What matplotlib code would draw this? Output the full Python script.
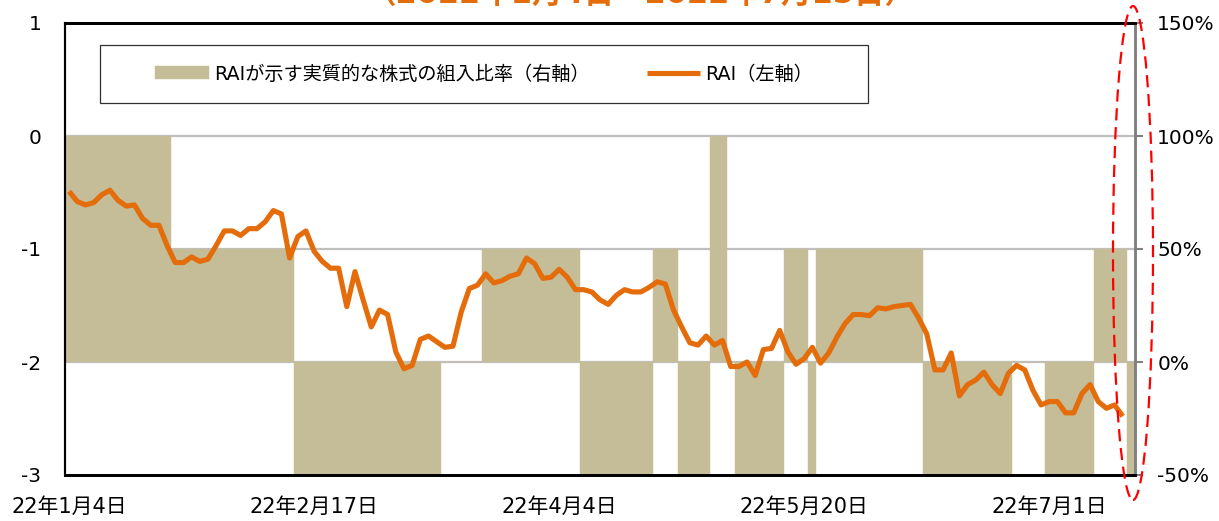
import matplotlib
matplotlib.use("Agg")
import matplotlib.pyplot as plt
from matplotlib.patches import Rectangle, Ellipse
import numpy as np

plt.rcParams['font.family'] = ['DejaVu Sans', 'Noto Sans CJK JP']

# ---------------- data ----------------
title = "（2022年1月4日～2022年7月15日）"
tick_labels = ["22年1月4日", "22年2月17日", "22年4月4日", "22年5月20日", "22年7月1日"]
tick_positions = [0, 30, 60, 90, 120]

# RAI (left axis), one value per business day (Jan 4 - Jul 14)
rai = [
    -0.49, -0.58, -0.61, -0.59, -0.52, -0.48, -0.57, -0.62, -0.61, -0.73,
    -0.79, -0.79, -0.97, -1.12, -1.12, -1.07, -1.11, -1.09, -0.97, -0.84,
    -0.84, -0.88, -0.82, -0.82, -0.76, -0.66, -0.69, -1.08, -0.89, -0.84,
    -1.02, -1.11, -1.17, -1.17, -1.51, -1.20, -1.45, -1.69, -1.54, -1.58,
    -1.91, -2.06, -2.03, -1.80, -1.77, -1.82, -1.87, -1.86, -1.56, -1.35,
    -1.32, -1.22, -1.30, -1.28, -1.24, -1.22, -1.08, -1.13, -1.26, -1.25,
    -1.18, -1.25, -1.36, -1.36, -1.38, -1.45, -1.49, -1.41, -1.36, -1.38,
    -1.38, -1.34, -1.29, -1.31, -1.54, -1.69, -1.83, -1.85, -1.77, -1.85,
    -1.81, -2.04, -2.04, -2.00, -2.12, -1.89, -1.88, -1.72, -1.91, -2.02,
    -1.97, -1.87, -2.01, -1.92, -1.78, -1.66, -1.58, -1.58, -1.59, -1.52,
    -1.53, -1.51, -1.50, -1.49, -1.61, -1.75, -2.07, -2.07, -1.92, -2.30,
    -2.20, -2.16, -2.09, -2.20, -2.28, -2.10, -2.03, -2.07, -2.25, -2.38,
    -2.35, -2.35, -2.45, -2.45, -2.28, -2.20, -2.35, -2.41, -2.38, -2.48,
]

# equity weight implied by RAI (right axis, %), one value per business day (Jan 4 - Jul 15)
ratio = [
    100, 100, 100, 100, 100, 100, 100, 100, 100, 100, 100, 100, 100,
    50, 50, 50, 50, 50, 50, 50, 50, 50, 50, 50, 50, 50, 50, 50,
    -50, -50, -50, -50, -50, -50, -50, -50, -50, -50, -50, -50, -50, -50, -50, -50, -50, -50,
    0, 0, 0, 0, 0,
    50, 50, 50, 50, 50, 50, 50, 50, 50, 50, 50, 50,
    -50, -50, -50, -50, -50, -50, -50, -50, -50,
    50, 50, 50,
    -50, -50, -50, -50,
    100, 100,
    0,
    -50, -50, -50, -50, -50, -50,
    50, 50, 50,
    -50,
    50, 50, 50, 50, 50, 50, 50, 50, 50, 50, 50, 50, 50,
    -50, -50, -50, -50, -50, -50, -50, -50, -50, -50, -50,
    0, 0, 0, 0,
    -50, -50, -50, -50, -50, -50,
    50, 50, 50, 50,
    -50,
]

label_bar = "RAIが示す実質的な株式の組入比率（右軸）"
label_line = "RAI（左軸）"

# ---------------- styles ----------------
ORANGE = "#E46C0A"
TAN = "#C4BD97"
GRID = "#BFBFBF"

W, H = 1219, 521
fig = plt.figure(figsize=(W / 100, H / 100), dpi=100)
L, R, T, B = 65, 1135, 23, 475
ax = fig.add_axes([L / W, 1 - B / H, (R - L) / W, (B - T) / H])
ax2 = ax.twinx()

x_bar = np.arange(len(ratio))
x_line = np.arange(len(rai))

# bars on right axis
ax2.set_ylim(-50, 150)
for g in (0, 50, 100):
    ax2.axhline(g, color=GRID, lw=1.6, zorder=0)
bars = ax2.bar(x_bar, ratio, width=1.0, color=TAN, edgecolor=TAN, linewidth=0.3, zorder=1)
ax2.set_yticks([-50, 0, 50, 100, 150])
ax2.set_yticklabels([f"{v}%" for v in [-50, 0, 50, 100, 150]])

# line on left axis
ax.set_zorder(ax2.get_zorder() + 1)
ax.patch.set_visible(False)
line, = ax.plot(x_line, rai, color=ORANGE, lw=3.7, solid_joinstyle='round', solid_capstyle='butt', zorder=3)
ax.set_ylim(-3, 1)
ax.set_yticks([-3, -2, -1, 0, 1])
ax.set_yticklabels(["-3", "-2", "-1", "0", "1"])
ax.set_xlim(-0.5, len(ratio) - 0.5)
ax.set_xticks(tick_positions)
ax.set_xticklabels(tick_labels)

ax.tick_params(axis='y', length=0, pad=17, labelsize=14.5)
ax.tick_params(axis='x', length=0, pad=16, labelsize=15)
ax2.tick_params(axis='y', length=6, width=1.5, color='#7F7F7F', pad=10, labelsize=14.5, direction='out')

for a in (ax, ax2):
    a.spines['left'].set_color('black')
    a.spines['left'].set_linewidth(1.5)
    a.spines['top'].set_color('black')
    a.spines['top'].set_linewidth(2.0)
    a.spines['bottom'].set_color('black')
    a.spines['bottom'].set_linewidth(2.0)
    a.spines['right'].set_color('#808080')
    a.spines['right'].set_linewidth(1.8)

# legend with separate frame
leg = ax.legend([bars, line], [label_bar, label_line], ncol=2, loc='center',
                bbox_to_anchor=((484 - L) / (R - L), (B - 74) / (B - T)),
                frameon=False, fontsize=13.8, handlelength=2.8, handletextpad=0.25,
                columnspacing=3.0, borderpad=0, borderaxespad=0, handleheight=0.65)
frame = Rectangle(((100 - L) / (R - L), (B - 103) / (B - T)), 768 / (R - L), 58 / (B - T),
                  transform=ax.transAxes, fill=True, facecolor='white', edgecolor='#303030', lw=0.9, zorder=4)
ax.add_patch(frame)
leg.set_zorder(5)

# title (partly cropped at the top in the reference)
fig.text(641 / W, 1 - 3 / H, title, ha='center', va='baseline', color=ORANGE,
         fontsize=22, fontweight='bold')

# red dashed highlight ellipse
ell = Ellipse((1133 / W, 1 - 253 / H), 40 / W, 494 / H, transform=fig.transFigure,
              fill=False, edgecolor='#FF0000', lw=1.6, linestyle=(0, (5.5, 3)), clip_on=False)
fig.patches.append(ell)

fig.savefig("out.png", dpi=100)
